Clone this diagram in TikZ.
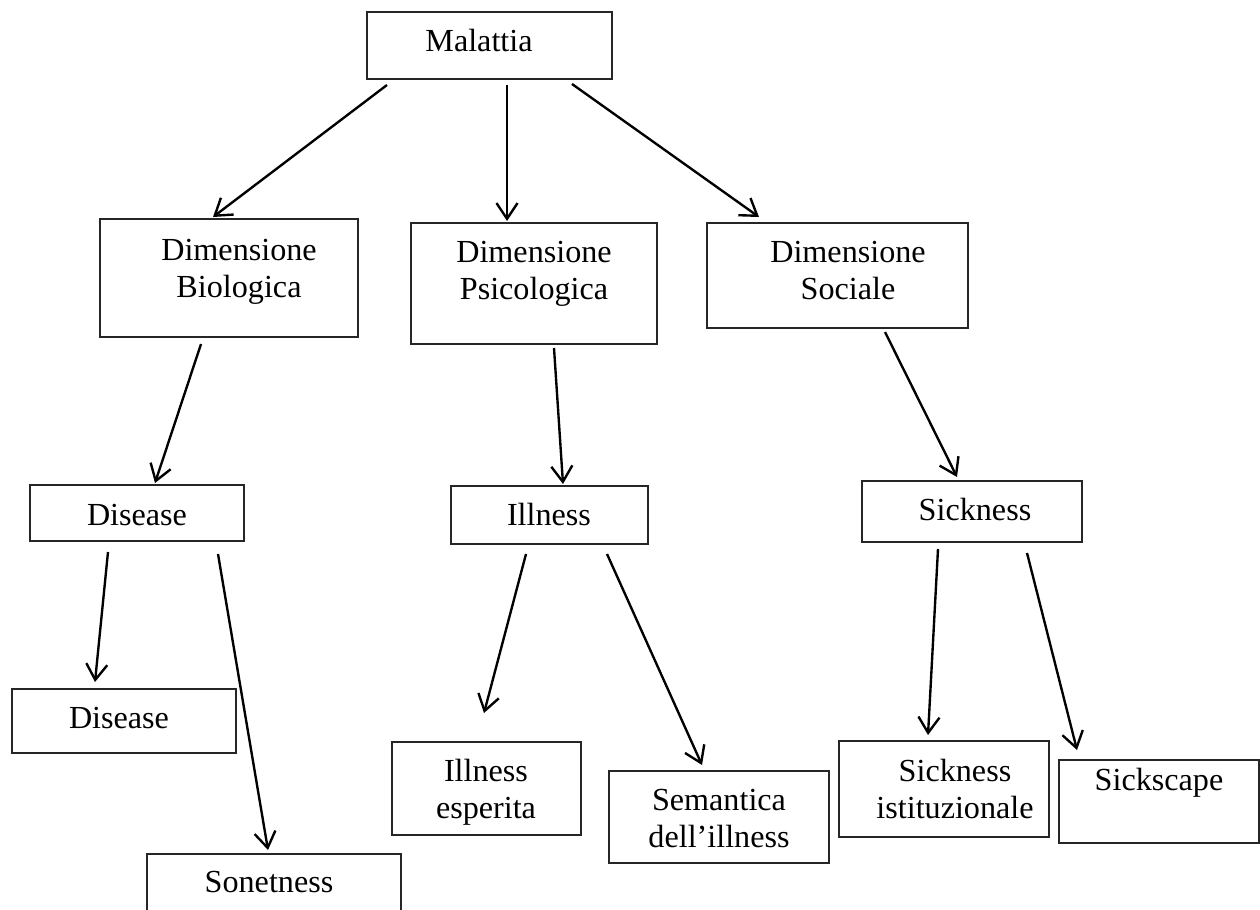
\documentclass[tikz,border=0pt]{standalone}
\usepackage{fontspec}
\setmainfont{Liberation Serif}
\usetikzlibrary{arrows.meta,fit}
\begin{document}
\begin{tikzpicture}[x=0.02cm,y=-0.02cm,
  box/.style={draw=black!85, line width=0.75pt, inner sep=0pt},
  txt/.style={inner sep=0pt, align=center, font=\fontsize{18.3}{21}\selectfont},
  arr/.style={line width=1.35pt, -{Straight Barb[length=9pt,width=12pt]}}]
\useasboundingbox (0,0) rectangle (1260,909);
\clip (0,0) rectangle (1260,909);

% boxes
\node[box, fit={(367,12) (612,79)}] (mal) {};
\node[box, fit={(100,219) (358,337)}] (bio) {};
\node[box, fit={(411,223) (657,344)}] (psi) {};
\node[box, fit={(707,223) (968,328)}] (soc) {};
\node[box, fit={(30,485) (244,541)}] (dis) {};
\node[box, fit={(12,689) (236,753)}] (disb) {};
\node[box, fit={(147,854) (401,940)}] (son) {};
\node[box, fit={(451,486) (648,544)}] (ill) {};
\node[box, fit={(392,742) (581,835)}] (ille) {};
\node[box, fit={(609,771) (829,863)}] (sem) {};
\node[box, fit={(862,481) (1082,542)}] (sic) {};
\node[box, fit={(839,741) (1049,837)}] (sici) {};
\node[box, fit={(1059,760) (1259,843)}] (sics) {};

% labels
\node[txt, anchor=base]  (mal-t)  at (479,52)  {Malattia};
\node[txt, anchor=north] (bio-t)  at (239,239) {Dimensione\\Biologica};
\node[txt, anchor=north] (psi-t)  at (534,241) {Dimensione\\Psicologica};
\node[txt, anchor=north] (soc-t)  at (848,241) {Dimensione\\Sociale};
\node[txt, anchor=base]  (dis-t)  at (137,525) {Disease};
\node[txt, anchor=base]  (disb-t) at (119,728) {Disease};
\node[txt, anchor=base]  (son-t)  at (269,892) {Sonetness};
\node[txt, anchor=base]  (ill-t)  at (549,525) {Illness};
\node[txt, anchor=north] (ille-t) at (486,759) {Illness\\esperita};
\node[txt, anchor=north] (sem-t)  at (719,789) {Semantica\\dell’illness};
\node[txt, anchor=base]  (sic-t)  at (975,520) {Sickness};
\node[txt, anchor=north] (sici-t) at (955,759) {Sickness\\istituzionale};
\node[txt, anchor=base]  (sics-t) at (1159,790) {Sickscape};

% arrow end points
\coordinate (a1s) at (387,85);   \coordinate (a1e) at (213,217);
\coordinate (a2s) at (507,85);   \coordinate (a2e) at (507,221);
\coordinate (a3s) at (572,84);   \coordinate (a3e) at (759,217);
\coordinate (a4s) at (201,344);  \coordinate (a4e) at (155,483);
\coordinate (a5s) at (554,348);  \coordinate (a5e) at (563,484);
\coordinate (a6s) at (885,332);  \coordinate (a6e) at (957,477);
\coordinate (a7s) at (108,552);  \coordinate (a7e) at (95,682);
\coordinate (a8s) at (218,554);  \coordinate (a8e) at (268,850);
\coordinate (a9s) at (526,554);  \coordinate (a9e) at (484,713);
\coordinate (a10s) at (607,554); \coordinate (a10e) at (702,765);
\coordinate (a11s) at (938,549); \coordinate (a11e) at (928,735);
\coordinate (a12s) at (1027,553);\coordinate (a12e) at (1077,750);

% arrows
\foreach \i in {1,...,12}
  \draw[arr] (a\i s) -- (a\i e);
\end{tikzpicture}
\end{document}
